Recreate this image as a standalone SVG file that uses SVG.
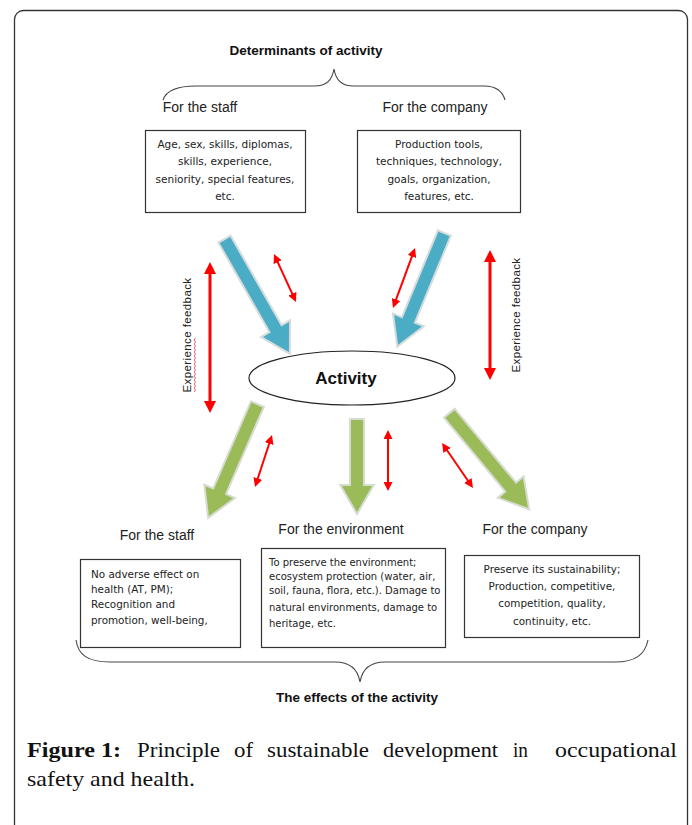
<svg xmlns="http://www.w3.org/2000/svg" width="692" height="825" viewBox="0 0 692 825">
<style>
.lbl{font-family:"Liberation Sans",Arial,sans-serif;font-size:14px;fill:#222}
.hdr{font-family:"Liberation Sans",Arial,sans-serif;font-size:13.5px;font-weight:bold;fill:#111}
.box{fill:#fff;stroke:#333;stroke-width:1.2}
.bt{font-family:"DejaVu Sans",Verdana,sans-serif;font-size:10.5px;fill:#222}
.brace{fill:none;stroke:#444;stroke-width:1.1}
.blue{fill:#4bacc6;stroke:#d6dcdc;stroke-width:4;paint-order:stroke;stroke-linejoin:miter}
.green{fill:#9bbb59;stroke:#d6dcd2;stroke-width:4;paint-order:stroke;stroke-linejoin:miter}
.rl{stroke:#ff0000;stroke-width:3;fill:none;marker-start:url(#ahL);marker-end:url(#ahL)}
.rs{stroke:#ff0000;stroke-width:2;fill:none;marker-start:url(#ahS);marker-end:url(#ahS)}
.fb{font-family:"Liberation Sans",Arial,sans-serif;font-size:11.5px;letter-spacing:0.4px;fill:#222}
.cap{font-family:"Liberation Serif","Times New Roman",serif;font-size:21px;fill:#111}
</style>
<defs>
<marker id="ahL" viewBox="0 0 12 12" refX="3" refY="6" markerWidth="12" markerHeight="12" markerUnits="userSpaceOnUse" orient="auto-start-reverse"><path d="M0,0 L12,6 L0,12 z" fill="#ff0000"/></marker>
<marker id="ahS" viewBox="0 0 9 9" refX="2" refY="4.5" markerWidth="9" markerHeight="9" markerUnits="userSpaceOnUse" orient="auto-start-reverse"><path d="M0,0 L9,4.5 L0,9 z" fill="#ff0000"/></marker>
</defs>
<rect width="692" height="825" fill="#fff"/>
<rect x="14.5" y="10.5" width="673" height="830" rx="9" fill="none" stroke="#333" stroke-width="1.3"/>

<g id="title-determinants">
<text class="hdr" x="306" y="55" text-anchor="middle">Determinants of activity</text>
<path class="brace" d="M163,100 C166,91 176,86 196,86 L314,86 C327,86 332,80 334,69 C336,80 341,86 354,86 L484,86 C497,86 503,93 505,100"/>
</g>

<g id="staff-det">
<text class="lbl" x="200" y="112" text-anchor="middle">For the staff</text>
<rect class="box" x="145.5" y="130.5" width="160" height="82"/>
<text class="bt" text-anchor="middle"><tspan x="225" y="148">Age, sex, skills, diplomas,</tspan><tspan x="225" y="165">skills, experience,</tspan><tspan x="225" y="183">seniority, special features,</tspan><tspan x="225" y="200">etc.</tspan></text>
</g>

<g id="company-det">
<text class="lbl" x="435" y="112" text-anchor="middle">For the company</text>
<rect class="box" x="357.5" y="130.5" width="163" height="82"/>
<text class="bt" text-anchor="middle"><tspan x="439" y="148">Production tools,</tspan><tspan x="439" y="165">techniques, technology,</tspan><tspan x="439" y="183">goals, organization,</tspan><tspan x="439" y="200">features, etc.</tspan></text>
</g>

<g id="activity">
<ellipse cx="352" cy="378" rx="103" ry="27" fill="#fff" stroke="#222" stroke-width="1.2"/>
<text x="346" y="384" text-anchor="middle" font-family="Liberation Sans,Arial,sans-serif" font-size="17" font-weight="bold" fill="#111">Activity</text>
</g>

<g id="connectors">
<polygon class="blue" transform="translate(225,240) rotate(60.3)" points="0,-6 103,-6 103,-15 129,0 103,15 103,6 0,6"/>
<polygon class="blue" transform="translate(444,234) rotate(112.5)" points="0,-6 94,-6 94,-15 120,0 94,15 94,6 0,6"/>
<polygon class="green" transform="translate(257,405) rotate(113.4)" points="0,-6 95,-6 95,-15 121,0 95,15 95,6 0,6"/>
<polygon class="green" transform="translate(357,420) rotate(90)" points="0,-6 66,-6 66,-15 92,0 66,15 66,6 0,6"/>
<polygon class="green" transform="translate(450,414) rotate(50.3)" points="0,-6 96,-6 96,-15 122,0 96,15 96,6 0,6"/>
<line class="rl" x1="210" y1="271" x2="210" y2="404"/>
<line class="rl" x1="490" y1="259" x2="490" y2="371"/>
<line class="rs" x1="276.9" y1="260.4" x2="293.1" y2="295.6"/>
<line class="rs" x1="412.6" y1="254.6" x2="395.4" y2="301.4"/>
<line class="rs" x1="269.8" y1="441.7" x2="257.2" y2="480.3"/>
<line class="rs" x1="388" y1="437" x2="388" y2="484"/>
<line class="rs" x1="446" y1="448.8" x2="469" y2="482.2"/>
</g>

<g id="feedback-left">
<text class="fb" transform="translate(191,335) rotate(-90)" text-anchor="middle">Experience feedback</text>
<path d="M194,392 l1.5,-2 l-1.5,-2 l1.5,-2 l-1.5,-2 l1.5,-2 l-1.5,-2 l1.5,-2 l-1.5,-2 l1.5,-2 l-1.5,-2 l1.5,-2 l-1.5,-2 l1.5,-2 l-1.5,-2 l1.5,-2 l-1.5,-2 l1.5,-2 l-1.5,-2 l1.5,-2 l-1.5,-2 l1.5,-2 l-1.5,-2 l1.5,-2 l-1.5,-2 l1.5,-2 l-1.5,-2 l1.5,-2" fill="none" stroke="#e04040" stroke-width="0.8"/>
</g>
<g id="feedback-right">
<text class="fb" transform="translate(520,315) rotate(-90)" text-anchor="middle">Experience feedback</text>
</g>

<g id="staff-eff">
<text class="lbl" x="157" y="540" text-anchor="middle">For the staff</text>
<rect class="box" x="80.5" y="559.5" width="160" height="88"/>
<text class="bt" style="font-size:10.4px"><tspan x="91" y="578">No adverse effect on</tspan><tspan x="91" y="593">health (AT, PM);</tspan><tspan x="91" y="608">Recognition and</tspan><tspan x="91" y="624">promotion,  well-being,</tspan></text>
</g>

<g id="env-eff">
<text class="lbl" x="341" y="534" text-anchor="middle">For the environment</text>
<rect class="box" x="261.5" y="548.5" width="184" height="99"/>
<text class="bt" style="font-size:10px"><tspan x="269" y="566">To preserve the environment;</tspan><tspan x="269" y="580">ecosystem protection (water, air,</tspan><tspan x="269" y="594">soil, fauna, flora, etc.). Damage to</tspan><tspan x="269" y="611">natural environments, damage to</tspan><tspan x="269" y="627">heritage, etc.</tspan></text>
</g>

<g id="company-eff">
<text class="lbl" x="535" y="534" text-anchor="middle">For the company</text>
<rect class="box" x="464.5" y="555.5" width="175" height="82"/>
<text class="bt" text-anchor="middle" style="font-size:10.4px"><tspan x="552" y="573">Preserve its sustainability;</tspan><tspan x="552" y="590">Production,  competitive,</tspan><tspan x="552" y="607">competition, quality,</tspan><tspan x="552" y="625">continuity,  etc.</tspan></text>
</g>

<g id="title-effects">
<path class="brace" d="M76,640 C78,655 88,662 110,662 L335,662 C350,662 358,670 360,682 C362,670 370,662 385,662 L615,662 C635,662 645,655 648,640"/>
<text class="hdr" x="357" y="702" text-anchor="middle">The effects of the activity</text>
</g>

<g id="caption">
<text class="cap" x="27" y="757" font-weight="bold" textLength="94" lengthAdjust="spacingAndGlyphs">Figure 1:</text>
<text class="cap" x="137" y="757" textLength="83" lengthAdjust="spacingAndGlyphs">Principle</text>
<text class="cap" x="234" y="757" textLength="19" lengthAdjust="spacingAndGlyphs">of</text>
<text class="cap" x="267" y="757" textLength="102" lengthAdjust="spacingAndGlyphs">sustainable</text>
<text class="cap" x="383" y="757" textLength="115" lengthAdjust="spacingAndGlyphs">development</text>
<text class="cap" x="513" y="757" textLength="15" lengthAdjust="spacingAndGlyphs">in</text>
<text class="cap" x="555" y="757" textLength="122" lengthAdjust="spacingAndGlyphs">occupational</text>
<text class="cap" x="27" y="786" textLength="168" lengthAdjust="spacingAndGlyphs">safety and health.</text>
</g>
</svg>
